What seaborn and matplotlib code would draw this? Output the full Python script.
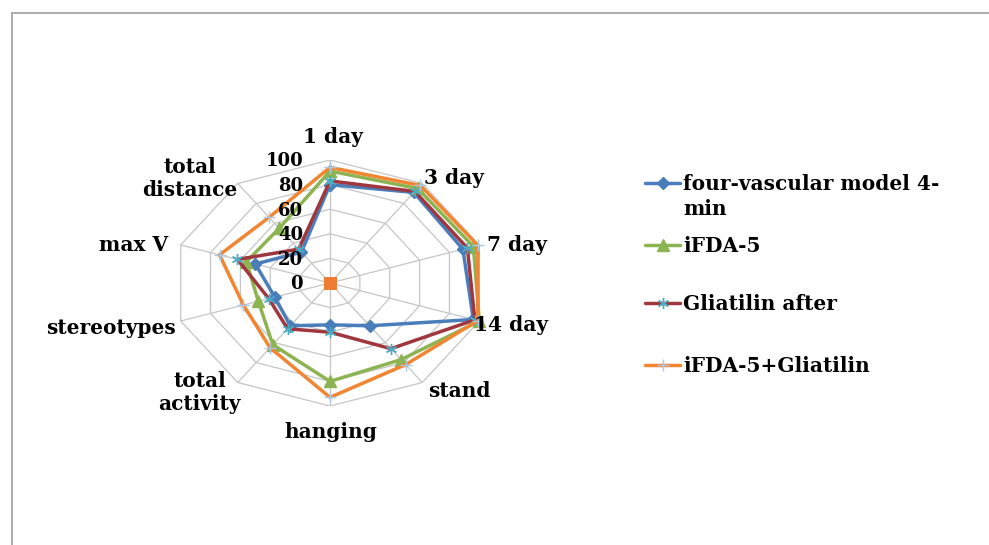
import numpy as np
import pandas as pd
import matplotlib
matplotlib.use("Agg")
import matplotlib.pyplot as plt
from matplotlib.lines import Line2D
from matplotlib.patches import Rectangle
import seaborn as sns

# ---- data -----------------------------------------------------------------
categories = ["1 day", "3 day", "7 day", "14 day", "stand", "hanging",
              "total activity", "stereotypes", "max V", "total distance"]
category_text = ["1 day", "3 day", "7 day", "14 day", "stand", "hanging",
                 "total\nactivity", "stereotypes", "max V", "total\ndistance"]

series_names = ["four-vascular model 4-\nmin", "iFDA-5",
                "Gliatilin after", "iFDA-5+Gliatilin"]
four_vascular = [80, 91, 89, 96, 43, 34, 43, 37, 50, 31]
ifda5 = [91, 95, 96, 100, 77, 80, 62, 48, 56, 55]
gliatilin_after = [83, 92, 92, 97, 66, 40, 46, 41, 62, 34]
ifda5_gliatilin = [94, 98, 99, 99, 82, 93, 65, 58, 74, 66]
zero_series = [0, 0, 0, 0, 0, 0, 0, 0, 0, 0]

radial_ticks = [0, 20, 40, 60, 80, 100]

# ---- styling --------------------------------------------------------------
sns.set_style("white")
plt.rcParams["font.family"] = ["DejaVu Serif"]
plt.rcParams["font.weight"] = "bold"

W, H = 989, 545
fig = plt.figure(figsize=(W / 100, H / 100), dpi=100)
fig.patch.set_facecolor("white")


def fx(px):
    return px / W


def fy(py):
    return 1 - py / H


# radar frame: centre (330, 283) px, radii 157 px (x) and 123 px (y)
cx, cy, rx, ry = 330, 283, 157, 123
ax = fig.add_axes([fx(cx - rx), fy(cy + ry), 2 * rx / W, 2 * ry / H])
ax.set_xlim(-100, 100)
ax.set_ylim(-100, 100)
ax.axis("off")

n = len(categories)
theta = np.arange(n) * 2 * np.pi / n
theta_closed = np.append(theta, theta[0])

grid_color = "#C6C6C6"
for r in radial_ticks[1:]:
    ax.plot(r * np.sin(theta_closed), r * np.cos(theta_closed),
            color=grid_color, lw=0.9, zorder=1)
top = radial_ticks[-1]
for t in theta:
    ax.plot([0, top * np.sin(t)], [0, top * np.cos(t)],
            color=grid_color, lw=0.9, zorder=1)

styles = [
    dict(color="#4A7EBB", marker="D", ms=6, mfc="#4A7EBB", mec="#4A7EBB", mew=1),
    dict(color="#8DB452", marker="^", ms=9, mfc="#8DB452", mec="#8DB452", mew=1),
    dict(color="#A0373F", marker=(6, 2, 0), ms=8, mfc="#4BACC6", mec="#4BACC6", mew=1),
    dict(color="#F28532", marker="+", ms=9, mfc="#A9C9E6", mec="#A9C9E6", mew=1),
]
values = [four_vascular, ifda5, gliatilin_after, ifda5_gliatilin]

for vals, st in zip(values, styles):
    v = np.append(vals, vals[0])
    df = pd.DataFrame({"x": v * np.sin(theta_closed), "y": v * np.cos(theta_closed)})
    sns.lineplot(data=df, x="x", y="y", sort=False, estimator=None, ax=ax,
                 color=st["color"], lw=2.5, marker=st["marker"],
                 markersize=st["ms"], markerfacecolor=st["mfc"],
                 markeredgecolor=st["mec"], markeredgewidth=st["mew"],
                 zorder=3, legend=False)

zv = np.array(zero_series)
sns.scatterplot(x=zv * np.sin(theta), y=zv * np.cos(theta), ax=ax,
                marker="s", s=70, color="#ED7D31", edgecolor="#ED7D31",
                zorder=4, legend=False)
ax.axis("off")

# category labels (pixel offsets from the outer vertex)
label_offsets = [(3, -23), (32, -5), (38, 0), (32, 4), (37, 8),
                 (1, 26), (-38, 10), (-70, 7), (-47, 0), (-48, -5)]
for t, txt, (dx, dy) in zip(theta, category_text, label_offsets):
    ax.annotate(txt, xy=(top * np.sin(t), top * np.cos(t)),
                xytext=(dx * 0.72, -dy * 0.72), textcoords="offset points",
                ha="center", va="center", multialignment="center",
                fontsize=14.5, fontweight="bold", color="black",
                linespacing=1.15, annotation_clip=False)

# radial value labels along the first spoke
for r in radial_ticks:
    ax.annotate(str(r), xy=(0, r), xytext=(-27 * 0.72, -1),
                textcoords="offset points", ha="right", va="center",
                fontsize=13, fontweight="bold", color="black",
                annotation_clip=False)

# legend
legend_rows = [183, 245, 303, 365]
for name, st, ly in zip(series_names, styles, legend_rows):
    fig.add_artist(Line2D([fx(645), fx(680)], [fy(ly), fy(ly)],
                          color=st["color"], lw=2.5, transform=fig.transFigure))
    fig.add_artist(Line2D([fx(662.5)], [fy(ly)], marker=st["marker"],
                          ms=st["ms"], mfc=st["mfc"], mec=st["mec"],
                          mew=st["mew"], lw=0, transform=fig.transFigure))
    fig.text(fx(683), fy(ly - 9), name, ha="left", va="top",
             fontsize=14.5, fontweight="bold", color="black", linespacing=1.3)

# chart area border
fig.add_artist(Rectangle((fx(12), fy(600)), 1.2, (600 - 13) / H,
                         transform=fig.transFigure, fill=False,
                         edgecolor="#A6A6A6", lw=1.3))

fig.savefig("out.png", dpi=100, facecolor="white")
